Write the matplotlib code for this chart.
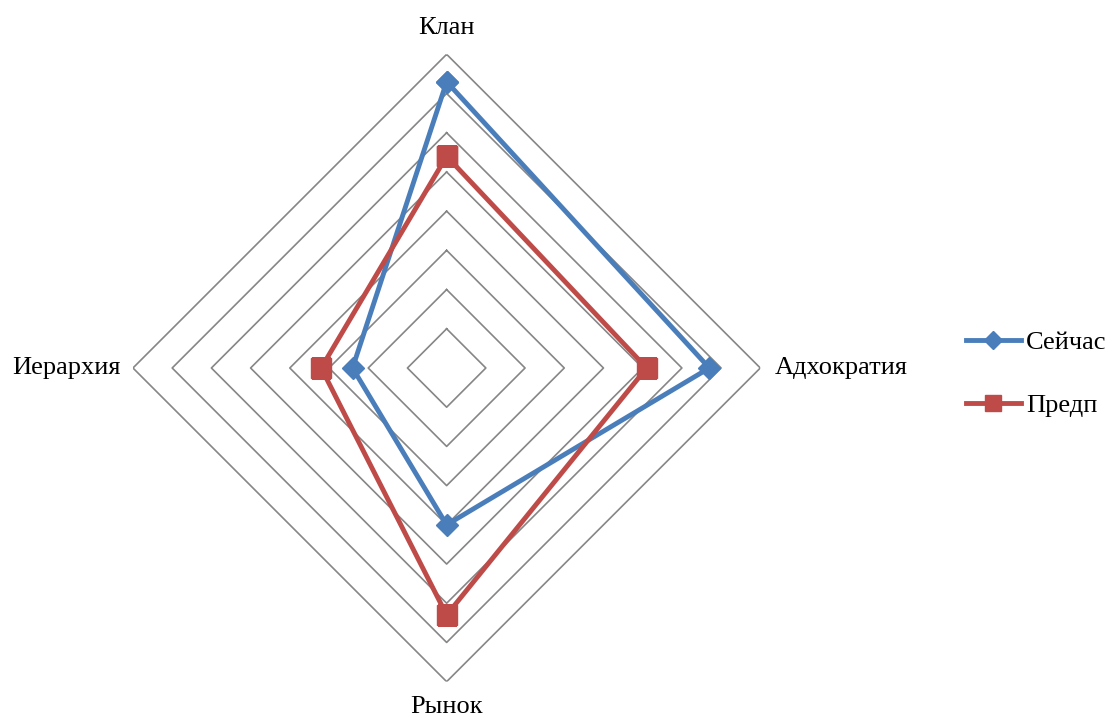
import numpy as np
import matplotlib
matplotlib.use("Agg")
import matplotlib.pyplot as plt

# Culture profile data (OCAI-style scores)
categories = ["Клан", "Адхократия", "Рынок", "Иерархия"]
now_values = [36.5, 33.5, 20.0, 12.0]        # Сейчас
preferred_values = [27.0, 25.5, 31.5, 16.0]  # Предп
series_names = ["Сейчас", "Предп"]
ring_levels = [5, 10, 15, 20, 25, 30, 35, 40]

plt.rcParams["font.family"] = ["Liberation Serif", "DejaVu Serif"]

fig = plt.figure(figsize=(11.08, 7.2), dpi=100)
ax = fig.add_axes([0.12, 0.0532, 0.5662, 0.8714], projection="polar")
ax.set_theta_offset(np.pi / 2)
ax.set_theta_direction(-1)
ax.set_ylim(0, ring_levels[-1])
ax.grid(False)
ax.spines["polar"].set_visible(False)
ax.set_xticks([])
ax.set_yticks([])

n = len(categories)
theta = np.linspace(0, 2 * np.pi, n, endpoint=False)
theta_closed = np.append(theta, theta[0])

# Diamond gridlines
for lvl in ring_levels:
    ax.plot(theta_closed, [lvl] * (n + 1), color="#868686", lw=1.2, zorder=1)

def closed(vals):
    return list(vals) + [vals[0]]

ax.plot(theta_closed, closed(now_values), color="#4A7EBB", lw=3.5,
        marker="D", ms=11, mfc="#4A7EBB", mec="#4A7EBB", zorder=3,
        label=series_names[0])
ax.plot(theta_closed, closed(preferred_values), color="#BE4B48", lw=3.5,
        marker="s", ms=14, mfc="#BE4B48", mec="#BE4B48", zorder=4,
        label=series_names[1])

# Category labels
label_r = ring_levels[-1]
label_fs = 19
ax.text(theta[0], label_r * 1.085, categories[0], ha="center", va="center",
        fontsize=label_fs)
ax.text(theta[1], label_r * 1.045, categories[1], ha="left", va="center",
        fontsize=label_fs)
ax.text(theta[2], label_r * 1.082, categories[2], ha="center", va="center",
        fontsize=label_fs)
ax.text(theta[3], label_r * 1.04, categories[3], ha="right", va="center",
        fontsize=label_fs)

for artist in ax.texts:
    artist.set_clip_on(False)

fig.legend(loc="center left", bbox_to_anchor=(0.85, 0.481), frameon=False,
           fontsize=label_fs, handlelength=2.1, handletextpad=0.2,
           labelspacing=1.5, markerscale=0.8)

fig.savefig("out.png", dpi=100, facecolor="white")
